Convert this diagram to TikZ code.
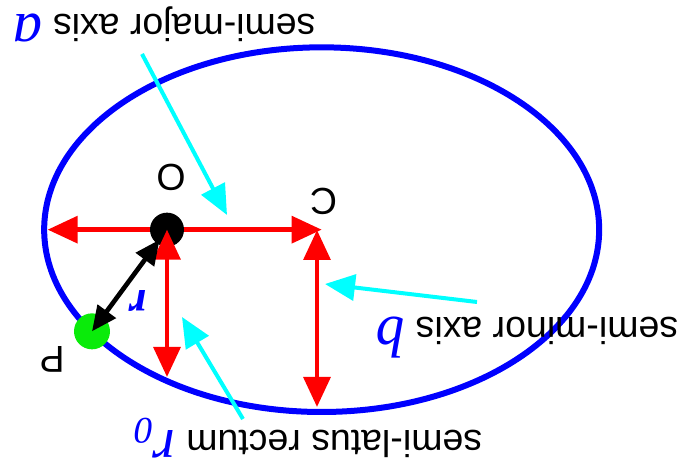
\documentclass[tikz,border=0pt]{standalone}
\usepackage{fontspec}
\setmainfont{Liberation Sans}
\newfontfamily\varfont{Liberation Serif}
\usetikzlibrary{arrows.meta}
\definecolor{dotgreen}{RGB}{10,235,10}
\definecolor{hintcyan}{RGB}{0,255,255}

\begin{document}
\begin{tikzpicture}[
    lbl/.style={rotate=180, inner sep=0pt, font=\fontsize{32}{38}\selectfont},
    fdot/.style={circle, fill=#1, inner sep=0pt},
    redarrow/.style={{Triangle[length=0.9cm,width=0.8cm]}-{Triangle[length=0.9cm,width=0.8cm]}, red, line width=0.13cm},
    blkarrow/.style={{Triangle[length=0.75cm,width=0.66cm]}-{Triangle[length=0.75cm,width=0.66cm]}, black, line width=0.14cm},
    cyanarrow/.style={-{Triangle[length=0.9cm,width=0.78cm]}, hintcyan, line width=0.12cm}
]
\useasboundingbox (0,0) rectangle (20.52,13.98);

% Punkte
\coordinate (C) at (9.65,7.09);
\coordinate (vertex) at (1.43,7.09);
\coordinate (minortop) at (9.51,7.08);
\coordinate (minorbot) at (9.51,1.77);
\coordinate (latusbot) at (5.01,2.67);

% Ellipse
\draw[blue, line width=0.18cm] (C) ellipse [x radius=8.325, y radius=5.47];

% grosse Halbachse
\draw[redarrow] (vertex) -- (C);

% Hinweispfeile
\coordinate (ca1) at (4.26,12.36);
\coordinate (cb1) at (6.81,7.53);
\coordinate (ca2) at (14.31,4.92);
\coordinate (cb2) at (9.75,5.46);
\coordinate (ca3) at (7.29,1.41);
\coordinate (cb3) at (5.46,4.47);
\draw[cyanarrow] (ca1) -- (cb1);
\draw[cyanarrow] (ca2) -- (cb2);
\draw[cyanarrow] (ca3) -- (cb3);

% Brennpunkt und Planet
\node[fdot=black, minimum size=1.02cm] (O) at (5.01,7.09) {};
\node[fdot=dotgreen, minimum size=1.08cm] (P) at (2.76,4.04) {};

% kleine Halbachse, Parameter, Radius
\draw[redarrow] (minortop) -- (minorbot);
\draw[redarrow] (O.center) -- (latusbot);
\draw[blkarrow, shorten <=0.37cm] (O.center) -- (P.center);

% Beschriftung
\node[lbl] (Olbl) at (5.13,8.655) {O};
\node[lbl] (Clbl) at (9.705,7.95) {C};
\node[lbl] (Plbl) at (1.56,3.21) {P};
\node[lbl, text=blue, font=\fontsize{38}{44}\selectfont\varfont\bfseries\itshape] (rlbl) at (4.14,4.965) {r};
\node[lbl, anchor=base west] (major) at (9.47,13.53)
    {semi-major axis {\fontsize{50}{60}\selectfont\varfont\itshape\color{blue}a}};
\node[lbl, anchor=base west] (minor) at (20.35,4.44)
    {semi-minor axis {\fontsize{50}{60}\selectfont\varfont\itshape\color{blue}b}};
\node[lbl, anchor=base west] (latus) at (14.47,1.05)
    {semi-latus rectum {\fontsize{50}{60}\selectfont\varfont\itshape\color{blue}r\raisebox{-0.22em}{\fontsize{32}{38}\selectfont 0}}};

\end{tikzpicture}
\end{document}
